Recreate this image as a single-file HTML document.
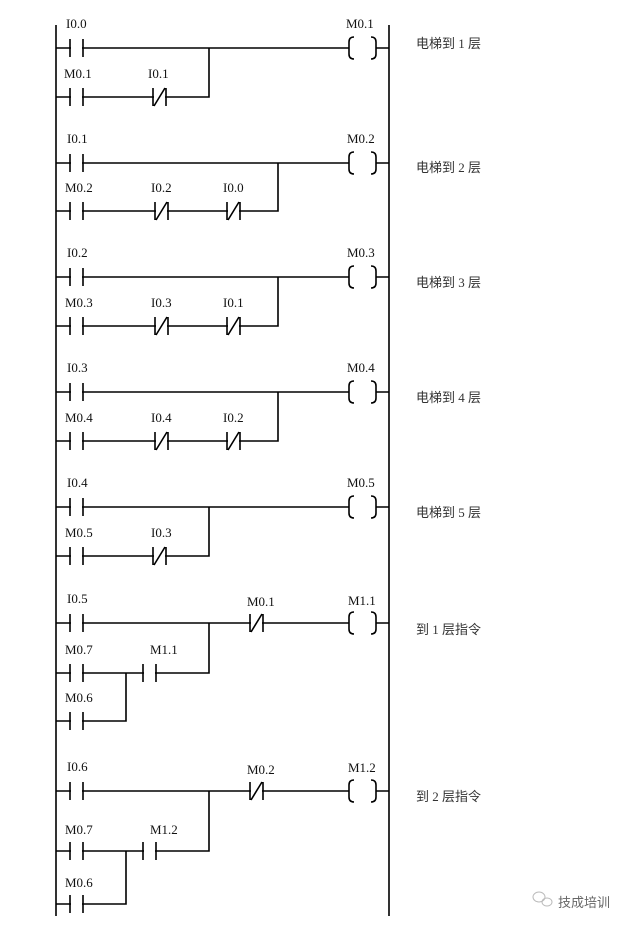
<!DOCTYPE html>
<html><head><meta charset="utf-8"><style>
html,body{margin:0;padding:0;background:#fff;}
svg{display:block;}
text{font-family:"Liberation Serif","Noto Serif CJK SC",serif;font-size:13px;fill:#111;}
.cn{font-family:"Liberation Serif","Noto Sans CJK SC",sans-serif;font-size:13px;fill:#333;}
</style></head><body>
<svg width="640" height="929" viewBox="0 0 640 929" xmlns="http://www.w3.org/2000/svg">
<defs>
<g id="no"><rect x="1" y="-3" width="11" height="6" fill="#fff"/><path d="M0,-9V9M13,-9V9" stroke="#000" stroke-width="1.6" fill="none"/></g>
<g id="nc"><rect x="1" y="-3" width="11" height="6" fill="#fff"/><path d="M0,-9V9M13,-9V9M1,9L12,-9" stroke="#000" stroke-width="1.6" fill="none"/></g>
<g id="coil"><rect x="1" y="-3" width="27" height="6" fill="#fff"/><path d="M6,-11Q1,-11 1,-6V6Q1,11 6,11M23,-11Q28,-11 28,-6V6Q28,11 23,11" stroke="#000" stroke-width="1.6" fill="none"/></g>
</defs>
<g stroke="#000" stroke-width="1.6" fill="none">
<path d="M56,25V916M389,25V916"/>
<path d="M56,48H389M56,97H209V48"/>
<path d="M56,163H389M56,211H278V163"/>
<path d="M56,277H389M56,326H278V277"/>
<path d="M56,392H389M56,441H278V392"/>
<path d="M56,507H389M56,556H209V507"/>
<path d="M56,623H389M56,673H209V623M126,673V721H56"/>
<path d="M56,791H389M56,851H209V791M126,851V904H56"/>
</g>
<use href="#no" x="70" y="48"/><use href="#no" x="70" y="97"/><use href="#nc" x="153" y="97"/><use href="#coil" x="348" y="48"/>
<use href="#no" x="70" y="163"/><use href="#no" x="70" y="211"/><use href="#nc" x="155" y="211"/><use href="#nc" x="227" y="211"/><use href="#coil" x="348" y="163"/>
<use href="#no" x="70" y="277"/><use href="#no" x="70" y="326"/><use href="#nc" x="155" y="326"/><use href="#nc" x="227" y="326"/><use href="#coil" x="348" y="277"/>
<use href="#no" x="70" y="392"/><use href="#no" x="70" y="441"/><use href="#nc" x="155" y="441"/><use href="#nc" x="227" y="441"/><use href="#coil" x="348" y="392"/>
<use href="#no" x="70" y="507"/><use href="#no" x="70" y="556"/><use href="#nc" x="153" y="556"/><use href="#coil" x="348" y="507"/>
<use href="#no" x="70" y="623"/><use href="#nc" x="250" y="623"/><use href="#coil" x="348" y="623"/><use href="#no" x="70" y="673"/><use href="#no" x="143" y="673"/><use href="#no" x="70" y="721"/>
<use href="#no" x="70" y="791"/><use href="#nc" x="250" y="791"/><use href="#coil" x="348" y="791"/><use href="#no" x="70" y="851"/><use href="#no" x="143" y="851"/><use href="#no" x="70" y="904"/>
<text x="66" y="28">I0.0</text><text x="64" y="78">M0.1</text><text x="148" y="78">I0.1</text><text x="346" y="28">M0.1</text>
<text x="67" y="143">I0.1</text><text x="65" y="192">M0.2</text><text x="151" y="192">I0.2</text><text x="223" y="192">I0.0</text><text x="347" y="143">M0.2</text>
<text x="67" y="257">I0.2</text><text x="65" y="307">M0.3</text><text x="151" y="307">I0.3</text><text x="223" y="307">I0.1</text><text x="347" y="257">M0.3</text>
<text x="67" y="372">I0.3</text><text x="65" y="422">M0.4</text><text x="151" y="422">I0.4</text><text x="223" y="422">I0.2</text><text x="347" y="372">M0.4</text>
<text x="67" y="487">I0.4</text><text x="65" y="537">M0.5</text><text x="151" y="537">I0.3</text><text x="347" y="487">M0.5</text>
<text x="67" y="603">I0.5</text><text x="247" y="606">M0.1</text><text x="348" y="605">M1.1</text><text x="65" y="654">M0.7</text><text x="150" y="654">M1.1</text><text x="65" y="702">M0.6</text>
<text x="67" y="771">I0.6</text><text x="247" y="774">M0.2</text><text x="348" y="772">M1.2</text><text x="65" y="834">M0.7</text><text x="150" y="834">M1.2</text><text x="65" y="887">M0.6</text>
<text class="cn" x="416" y="48">电梯到 1 层</text>
<text class="cn" x="416" y="172">电梯到 2 层</text>
<text class="cn" x="416" y="287">电梯到 3 层</text>
<text class="cn" x="416" y="402">电梯到 4 层</text>
<text class="cn" x="416" y="517">电梯到 5 层</text>
<text class="cn" x="416" y="634">到 1 层指令</text>
<text class="cn" x="416" y="801">到 2 层指令</text>
<g stroke="#bbb" fill="none" stroke-width="1"><ellipse cx="539" cy="897" rx="6" ry="5"/><ellipse cx="547" cy="902" rx="5" ry="4"/></g>
<text class="cn" x="558" y="907" style="fill:#666">技成培训</text>
</svg>
</body></html>
